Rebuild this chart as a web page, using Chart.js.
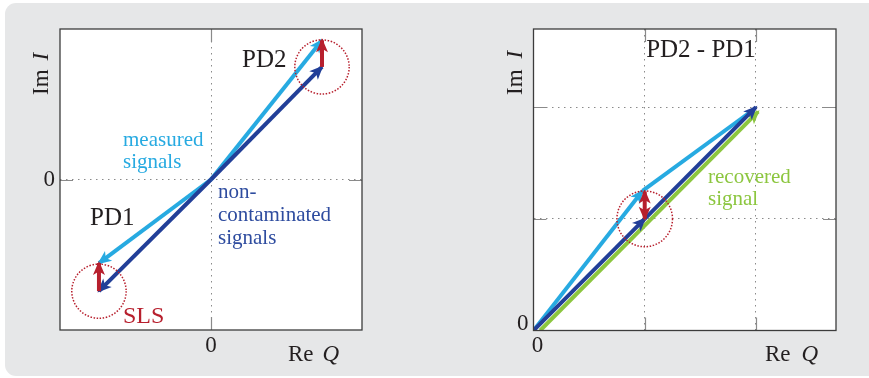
<!DOCTYPE html>
<html>
<head>
<meta charset="utf-8">
<script src="https://cdn.jsdelivr.net/npm/chart.js@4.4.1/dist/chart.umd.min.js"></script>
<style>
  html, body { margin: 0; padding: 0; background: #fff; width: 869px; height: 378px; overflow: hidden; }
  #panel { position: absolute; left: 5px; top: 3px; width: 900px; height: 373px; background: #e6e7e8; border-radius: 11px; }
  canvas { position: absolute; top: 0; }
  #left { left: 0; }
  #right { left: 434px; }
</style>
</head>
<body>
<div id="panel"></div>
<canvas id="left" width="434" height="378"></canvas>
<canvas id="right" width="435" height="378"></canvas>
<script>
// ---- IQ-plane phasors of the two photodiodes ----
const ORIGIN = [0, 0];
const leftTicks = [0];
const pd2Clean = [0.735, 0.748];      // non-contaminated PD2
const pd2Measured = [0.735, 0.925];   // measured PD2 (with SLS)
const pd1Clean = [-0.742, -0.742];    // non-contaminated PD1
const pd1Measured = [-0.742, -0.555]; // measured PD1 (with SLS)
const leftCircles = [pd2Clean, pd1Clean];

// ---- difference PD2 - PD1 ----
const rightTicks = [0, 1, 2];
const diffClean = [[0, 0], [1, 1], [2, 2]];
const diffMeasuredA = [[0, 0], [0.98, 1.25]];
const diffMeasuredB = [[0.98, 1.25], [1.94, 1.95]];
const diffSls = [[1, 1], [1, 1.245]];
const recovered = [[0.06, 0], [2.02, 1.96]];
const rightCircles = [[1, 1]];

const LIGHT = '#27aae1';
const DARK = '#223f98';
const RED = '#b71f2d';
const GREEN = '#8cc63f';
const SERIF = '"Liberation Serif", "DejaVu Serif", serif';

// room reserved for the "0" tick labels
const Y_LABEL_W = 30;
const X_LABEL_H = 30;

const pts = arr => arr.map(p => ({ x: p[0], y: p[1] }));

function line(points, color, arrow) {
  return {
    data: pts(points), showLine: true, borderColor: color, backgroundColor: color,
    borderWidth: 4, pointRadius: 0, borderCapStyle: 'butt', borderJoinStyle: 'miter', arrow: arrow
  };
}

function drawHead(ctx, from, to, color) {
  const ang = Math.atan2(to.y - from.y, to.x - from.x);
  const L = 14, W = 6, N = 3.5, ext = 2;
  ctx.save();
  ctx.translate(to.x, to.y);
  ctx.rotate(ang);
  ctx.beginPath();
  ctx.moveTo(ext, 0);
  ctx.lineTo(ext - L, -W);
  ctx.lineTo(ext - L + N, 0);
  ctx.lineTo(ext - L, W);
  ctx.closePath();
  ctx.fillStyle = color;
  ctx.fill();
  ctx.restore();
}

const arrowHeads = {
  id: 'arrowHeads',
  afterDatasetDraw(chart, args) {
    const ds = chart.data.datasets[args.index];
    if (!ds.arrow) return;
    const p = args.meta.data;
    const ctx = chart.ctx;
    const n = p.length;
    if (ds.arrow === 'end' || ds.arrow === 'both') drawHead(ctx, p[n - 2], p[n - 1], ds.borderColor);
    if (ds.arrow === 'both') drawHead(ctx, p[1], p[0], ds.borderColor);
  }
};

const frame = {
  id: 'frame',
  beforeDraw(chart) {
    const { ctx, chartArea: a } = chart;
    ctx.save();
    ctx.fillStyle = '#fff';
    ctx.fillRect(a.left, a.top, a.width, a.height);
    ctx.restore();
  },
  beforeDatasetsDraw(chart) {
    // short solid tick marks on all four sides
    const { ctx, chartArea: a, scales } = chart;
    const len = 13;
    ctx.save();
    ctx.strokeStyle = '#8a8a8a';
    ctx.lineWidth = 1.2;
    ctx.beginPath();
    scales.x.ticks.forEach(t => {
      const x = Math.round(scales.x.getPixelForValue(t.value)) + 0.5;
      if (x <= a.left + 1 || x >= a.right - 1) return;
      ctx.moveTo(x, a.bottom); ctx.lineTo(x, a.bottom - len);
      ctx.moveTo(x, a.top); ctx.lineTo(x, a.top + len);
    });
    scales.y.ticks.forEach(t => {
      const y = Math.round(scales.y.getPixelForValue(t.value)) + 0.5;
      if (y <= a.top + 1 || y >= a.bottom - 1) return;
      ctx.moveTo(a.left, y); ctx.lineTo(a.left + len, y);
      ctx.moveTo(a.right, y); ctx.lineTo(a.right - len, y);
    });
    ctx.stroke();
    ctx.restore();
  },
  afterDraw(chart) {
    const { ctx, chartArea: a } = chart;
    ctx.save();
    ctx.strokeStyle = '#3c3c3c';
    ctx.lineWidth = 1.3;
    ctx.strokeRect(a.left, a.top, a.width, a.height);
    ctx.restore();
  }
};

const circles = {
  id: 'circles',
  afterDatasetsDraw(chart, args, opts) {
    const { ctx, scales } = chart;
    ctx.save();
    ctx.strokeStyle = RED;
    ctx.lineWidth = 1.5;
    ctx.setLineDash([1.5, 1.6]);
    (opts.centers || []).forEach(c => {
      const cx = scales.x.getPixelForValue(c[0]);
      const cy = scales.y.getPixelForValue(c[1]);
      const rx = Math.abs(scales.x.getPixelForValue(c[0] + opts.radius) - cx);
      const ry = Math.abs(scales.y.getPixelForValue(c[1] + opts.radius) - cy);
      ctx.beginPath();
      ctx.ellipse(cx, cy, rx, ry, 0, 0, Math.PI * 2);
      ctx.stroke();
    });
    ctx.restore();
  }
};

const notes = {
  id: 'notes',
  afterDraw(chart, args, opts) {
    const ctx = chart.ctx;
    ctx.save();
    (opts.items || []).forEach(it => {
      ctx.font = (it.italic ? 'italic ' : '') + it.size + 'px ' + SERIF;
      ctx.fillStyle = it.color || '#231f20';
      ctx.textAlign = it.align || 'left';
      ctx.textBaseline = 'alphabetic';
      ctx.fillText(it.text, it.x, it.y);
    });
    // axis titles: "Re Q" and rotated "Im I"
    const t = opts.titles;
    if (t) {
      ctx.fillStyle = '#231f20';
      ctx.textAlign = 'left';
      ctx.font = t.size + 'px ' + SERIF;
      ctx.fillText('Re', t.re[0], t.re[1]);
      const w = ctx.measureText('Re').width;
      ctx.font = 'italic ' + t.size + 'px ' + SERIF;
      ctx.fillText('Q', t.re[0] + w + t.gap, t.re[1]);
      ctx.save();
      ctx.translate(t.im[0], t.im[1]);
      ctx.rotate(-Math.PI / 2);
      ctx.font = t.size + 'px ' + SERIF;
      ctx.fillText('Im', 0, 0);
      const w2 = ctx.measureText('Im').width;
      ctx.font = 'italic ' + t.size + 'px ' + SERIF;
      ctx.fillText('I', w2 + t.gap, 0);
      ctx.restore();
    }
    ctx.restore();
  }
};

function axis(min, max, values, labelOffset, isX) {
  return {
    type: 'linear', min: min, max: max,
    afterBuildTicks: s => { s.ticks = values.map(v => ({ value: v })); },
    afterFit: s => { if (isX) s.height = X_LABEL_H; else s.width = Y_LABEL_W; },
    ticks: {
      callback: v => (v === 0 ? '0' : ''),
      font: { family: SERIF, size: 23 }, color: '#231f20',
      padding: isX ? 2 : 5, maxRotation: 0, autoSkip: false, labelOffset: labelOffset
    },
    grid: { color: '#8a8a8a', lineWidth: 1, drawTicks: false },
    border: { display: false, dash: [1.5, 4.5] }
  };
}

function makeChart(id, datasets, scales, area, pluginOpts) {
  // area: desired plot-area edges inside the canvas
  const c = document.getElementById(id);
  return new Chart(c, {
    type: 'scatter',
    data: { datasets: datasets },
    options: {
      responsive: false, animation: false, events: [],
      layout: { padding: {
        left: area.left - Y_LABEL_W, top: area.top,
        right: c.width - area.right, bottom: c.height - area.bottom - X_LABEL_H
      } },
      scales: scales,
      plugins: Object.assign({ legend: { display: false }, tooltip: { enabled: false } }, pluginOpts)
    },
    plugins: [frame, arrowHeads, circles, notes]
  });
}

// first dataset is drawn on top
makeChart('left', [
  line([pd2Clean, pd2Measured], RED, 'end'),
  line([pd1Clean, pd1Measured], RED, 'end'),
  line([ORIGIN, pd2Clean], DARK, 'end'),
  line([ORIGIN, pd1Clean], DARK, 'end'),
  line([ORIGIN, pd2Measured], LIGHT, 'end'),
  line([ORIGIN, pd1Measured], LIGHT, 'end')
], {
  x: axis(-1, 1, leftTicks, 0, true),
  y: axis(-1, 1, leftTicks, 0, false)
}, { left: 60, right: 362, top: 29, bottom: 330 }, {
  circles: { centers: leftCircles, radius: 0.18 },
  notes: {
    items: [
      { text: 'PD2', x: 242, y: 67, size: 25 },
      { text: 'measured', x: 123, y: 146, size: 21, color: LIGHT },
      { text: 'signals', x: 123, y: 168, size: 21, color: LIGHT },
      { text: 'non-', x: 218, y: 198, size: 21, color: '#2e4c9f' },
      { text: 'contaminated', x: 218, y: 221, size: 21, color: '#2e4c9f' },
      { text: 'signals', x: 218, y: 244, size: 21, color: '#2e4c9f' },
      { text: 'PD1', x: 90, y: 225, size: 25 },
      { text: 'SLS', x: 123, y: 323, size: 24, color: RED }
    ],
    titles: { size: 23, gap: 9, re: [288, 361], im: [48, 95] }
  }
});

makeChart('right', [
  line(diffSls, RED, 'both'),
  line([diffClean[1], diffClean[2]], DARK, 'end'),
  line([diffClean[0], diffClean[1]], DARK, 'end'),
  line(recovered, GREEN, 'end'),
  line(diffMeasuredA, LIGHT, 'end'),
  line(diffMeasuredB, LIGHT, false)
], {
  x: axis(0, 2.72, rightTicks, 4, true),
  y: axis(0, 2.7, rightTicks, -7, false)
}, { left: 99.5, right: 402, top: 29, bottom: 330.5 }, {
  circles: { centers: rightCircles, radius: 0.25 },
  notes: {
    items: [
      { text: 'PD2 - PD1', x: 267, y: 56.5, size: 25, align: 'center' },
      { text: 'recovered', x: 274, y: 182.5, size: 21, color: GREEN },
      { text: 'signal', x: 274, y: 204.5, size: 21, color: GREEN }
    ],
    titles: { size: 23, gap: 11, re: [331, 361], im: [88, 95] }
  }
});
</script>
</body>
</html>
